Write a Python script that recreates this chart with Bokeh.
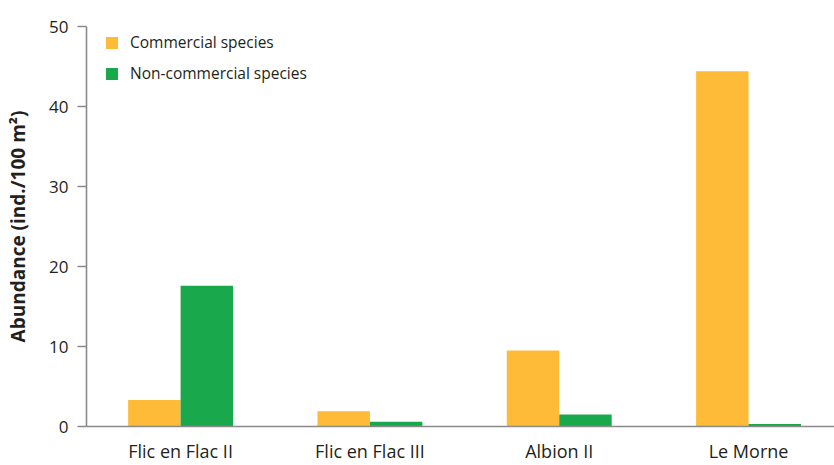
from bokeh.plotting import figure
from bokeh.models import Range1d, FixedTicker, ColumnDataSource, Legend, LegendItem
from bokeh.transform import dodge
from bokeh.embed import file_html
from bokeh.resources import INLINE

sites = ["Flic en Flac II", "Flic en Flac III", "Albion II", "Le Morne"]
commercial = [3.3, 1.9, 9.5, 44.4]
non_commercial = [17.6, 0.6, 1.5, 0.3]
y_ticks = [0, 10, 20, 30, 40, 50]

ORANGE = "#FDBB37"
GREEN = "#1AA84C"
TEXT = "#231F20"
AXIS = "#8A8A8A"
FONT = "Open Sans"

idx = list(range(len(sites)))
src = ColumnDataSource(dict(x=idx, com=commercial, non=non_commercial))

p = figure(width=834, height=465, output_backend="svg", toolbar_location=None,
           x_range=Range1d(-0.497, 3.454), y_range=Range1d(0, 50),
           min_border_left=86, min_border_right=0, min_border_top=26,
           min_border_bottom=38)
p.outline_line_color = None
p.grid.visible = False
p.background_fill_color = "white"
p.border_fill_color = "white"

w = 0.277
r1 = p.vbar(x=dodge("x", -w / 2, range=p.x_range), top="com", width=w, bottom=0,
            source=src, fill_color=ORANGE, line_color=None)
r2 = p.vbar(x=dodge("x", w / 2, range=p.x_range), top="non", width=w, bottom=0,
            source=src, fill_color=GREEN, line_color=None)

# x axis
xa = p.xaxis[0]
xa.ticker = FixedTicker(ticks=idx)
xa.major_label_overrides = {i: s for i, s in zip(idx, sites)}
xa.major_tick_out = 0
xa.major_tick_in = 0
xa.minor_tick_line_color = None
xa.axis_line_color = AXIS
xa.axis_line_width = 1.6
xa.major_label_text_font = FONT
xa.major_label_text_font_size = "18px"
xa.major_label_text_color = TEXT
xa.major_label_standoff = 12

# y axis
ya = p.yaxis[0]
ya.ticker = FixedTicker(ticks=y_ticks)
ya.major_tick_out = 9
ya.major_tick_in = 0
ya.minor_tick_line_color = None
ya.axis_line_color = AXIS
ya.axis_line_width = 1.6
ya.major_tick_line_color = AXIS
ya.major_tick_line_width = 1.6
ya.major_label_text_font = FONT
ya.major_label_text_font_size = "17px"
ya.major_label_text_color = TEXT
ya.major_label_standoff = 9
ya.axis_label = "Abundance (ind./100 m²)"
ya.axis_label_text_font = FONT
ya.axis_label_text_font_style = "bold"
ya.axis_label_text_font_size = "19px"
ya.axis_label_text_color = TEXT
ya.axis_label_standoff = 15

legend = Legend(items=[LegendItem(label="Commercial species", renderers=[r1]),
                       LegendItem(label="Non-commercial species", renderers=[r2])],
                location=(18, 342), orientation="vertical",
                glyph_width=15, glyph_height=15, label_height=15,
                spacing=9, padding=0, margin=0, label_standoff=11,
                label_text_font=FONT, label_text_font_size="15.5px",
                label_text_color=TEXT, border_line_color=None,
                background_fill_alpha=0)
p.add_layout(legend, "center")

open("out.html", "w").write(file_html(p, INLINE))
